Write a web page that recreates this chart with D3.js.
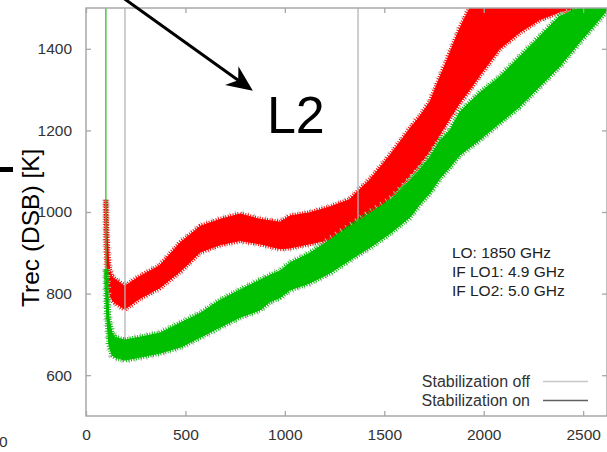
<!DOCTYPE html>
<html>
<head>
<meta charset="utf-8">
<script src="https://cdn.jsdelivr.net/npm/d3@7"></script>
<style>
  html, body { margin: 0; padding: 0; background: #fff; }
  svg { display: block; font-family: "Liberation Sans", Arial, Helvetica, sans-serif; }
</style>
</head>
<body>
<svg id="chart" width="607" height="452"></svg>
<script>
// ---------------- data ----------------
const xTicks = [0, 500, 1000, 1500, 2000, 2500];
const yTicks = [600, 800, 1000, 1200, 1400];

// red band (lower / upper envelope of the noisy trace)
const redX    = [100, 104, 110, 118, 130, 145, 195, 270, 370, 475, 575, 675, 775, 875, 975, 1025, 1125, 1225, 1325, 1370, 1430, 1530, 1630, 1680, 1730, 1780, 1830, 1880, 1930, 1980, 2080, 2180, 2280, 2380, 2460];
const redLow  = [930, 880, 830, 800, 785, 778, 762, 788, 814, 855, 902, 920, 930, 922, 910, 912, 922, 932, 955, 965, 985, 1035, 1090, 1118, 1150, 1190, 1230, 1268, 1300, 1335, 1400, 1440, 1471, 1490, 1500];
const redHigh = [1030, 960, 900, 860, 842, 835, 818, 842, 868, 925, 965, 982, 995, 982, 975, 990, 998, 1012, 1030, 1052, 1080, 1140, 1205, 1235, 1270, 1330, 1390, 1450, 1500, 1500, 1500, 1500, 1500, 1500, 1500];

// green band
const greenX    = [101, 103, 108, 115, 130, 145, 195, 270, 370, 475, 575, 675, 775, 875, 925, 975, 1025, 1125, 1225, 1325, 1430, 1530, 1630, 1680, 1730, 1780, 1830, 1880, 1980, 2080, 2180, 2280, 2380, 2480, 2580, 2620];
const greenLow  = [800, 760, 720, 675, 650, 644, 637, 644, 654, 669, 693, 718, 742, 760, 780, 790, 809, 826, 850, 882, 914, 948, 988, 1020, 1047, 1083, 1110, 1140, 1177, 1218, 1258, 1307, 1356, 1415, 1471, 1495];
const greenHigh = [860, 840, 800, 740, 705, 693, 686, 693, 703, 728, 752, 784, 809, 833, 845, 855, 875, 899, 931, 963, 998, 1029, 1078, 1105, 1135, 1175, 1200, 1245, 1292, 1331, 1380, 1429, 1479, 1500, 1500, 1500];

// isolated spikes
const spikeX      = [196, 1368, 100];
const spikeLow    = [680, 960, 860];
const spikeHigh   = [1500, 1500, 1500];
const spikeSeries = ["off", "off", "on"];

const infoLines   = ["LO: 1850 GHz", "IF LO1: 4.9 GHz", "IF LO2: 5.0 GHz"];
const legendNames = ["Stabilization off", "Stabilization on"];

// ---------------- chart ----------------
const L = 86, R = 607, T = 8, B = 416;
const svg = d3.select("#chart");
const x = d3.scaleLinear().domain([0, 2620]).range([L, R]);
const y = d3.scaleLinear().domain([500, 1500]).range([B, T]);

svg.append("defs").append("clipPath").attr("id", "clip")
  .append("rect").attr("x", L).attr("y", T).attr("width", R - L).attr("height", B - T);

const plot = svg.append("g").attr("clip-path", "url(#clip)");

function band(xs, lo, hi) {
  return xs.map((d, i) => ({ x: d, lo: lo[i], hi: hi[i] }));
}
const area = d3.area().x(d => x(d.x)).y0(d => y(d.lo)).y1(d => y(d.hi));

const RED = "#ff0000", GREEN = "#00be00", GRAY = "#b4b4b4";

function drawBand(data, col) {
  const g = plot.append("g");
  // faint gray fringe (stabilization-off trace peeking out)
  g.append("path").datum(data).attr("d", area)
    .attr("fill", "none").attr("stroke", "#c4c4c4").attr("stroke-width", 8)
    .attr("stroke-dasharray", "1,5");
  // fuzzy coloured fringe
  g.append("path").datum(data).attr("d", area)
    .attr("fill", "none").attr("stroke", col).attr("stroke-width", 5)
    .attr("stroke-dasharray", "1,1.5");
  g.append("path").datum(data).attr("d", area)
    .attr("fill", col).attr("stroke", col).attr("stroke-width", 1);
}

drawBand(band(redX, redLow, redHigh), RED);

const spikes = spikeX.map((d, i) => ({ x: d, lo: spikeLow[i], hi: spikeHigh[i], s: spikeSeries[i] }));
plot.selectAll("line.spike-off").data(spikes.filter(d => d.s === "off")).join("line")
  .attr("class", "spike-off")
  .attr("x1", d => x(d.x)).attr("x2", d => x(d.x))
  .attr("y1", d => y(d.lo)).attr("y2", d => y(d.hi))
  .attr("stroke", GRAY).attr("stroke-width", 1.3);

drawBand(band(greenX, greenLow, greenHigh), GREEN);

plot.selectAll("line.spike-on").data(spikes.filter(d => d.s === "on")).join("line")
  .attr("class", "spike-on")
  .attr("x1", d => x(d.x)).attr("x2", d => x(d.x))
  .attr("y1", d => y(d.lo)).attr("y2", d => y(d.hi))
  .attr("stroke", "#40c040").attr("stroke-width", 1.4);

// border and inward ticks (gnuplot style)
const axisCol = "#a8a8a8";
svg.append("rect").attr("x", L).attr("y", T).attr("width", R - L).attr("height", B - T)
  .attr("fill", "none").attr("stroke", axisCol).attr("stroke-width", 1.5);

const xb = svg.append("g").attr("transform", `translate(0,${B})`)
  .call(d3.axisBottom(x).tickValues(xTicks).tickSize(-5).tickPadding(13).tickFormat(d3.format("d")));
const xt = svg.append("g").attr("transform", `translate(0,${T})`)
  .call(d3.axisTop(x).tickValues(xTicks).tickSize(-5).tickFormat(""));
const yl = svg.append("g").attr("transform", `translate(${L},0)`)
  .call(d3.axisLeft(y).tickValues(yTicks).tickSize(-5).tickPadding(14).tickFormat(d3.format("d")));
const yr = svg.append("g").attr("transform", `translate(${R},0)`)
  .call(d3.axisRight(y).tickValues(yTicks).tickSize(-5).tickFormat(""));
[xb, xt, yl, yr].forEach(g => {
  g.select(".domain").remove();
  g.selectAll(".tick line").attr("stroke", axisCol).attr("stroke-width", 1.3);
  g.selectAll(".tick text").attr("fill", "#333").style("font-size", "15.5px")
    .style("font-family", '"Liberation Sans", Arial, sans-serif');
});

// stray "0" at lower left
svg.append("text").attr("x", -1).attr("y", 447).attr("fill", "#333")
  .style("font-size", "15.5px").text("0");

// y axis title
svg.append("text").attr("transform", "translate(39,307) rotate(-90)")
  .attr("fill", "#000").style("font-size", "24.5px").text("Trec (DSB) [K]");
svg.append("rect").attr("x", 0).attr("y", 167).attr("width", 13).attr("height", 5).attr("fill", "#000");

// info text
const info = svg.append("g");
infoLines.forEach((t, i) => {
  info.append("text").attr("x", x(1840)).attr("y", 258 + i * 18.8)
    .attr("fill", "#222").style("font-size", "15.5px").text(t);
});

// legend
const legCols = ["#c8c8c8", "#606060"];
legendNames.forEach((t, i) => {
  const yy = 386.5 + i * 19;
  svg.append("text").attr("x", 530).attr("y", yy).attr("text-anchor", "end")
    .attr("fill", "#333").style("font-size", "16px").text(t);
  svg.append("line").attr("x1", 543).attr("x2", 588).attr("y1", yy - 5).attr("y2", yy - 5)
    .attr("stroke", legCols[i]).attr("stroke-width", 1.3);
});

// arrow annotation pointing at "L2"
const start = [x(186), y(1525)], tip = [x(839), y(1297)];
const dx = tip[0] - start[0], dy = tip[1] - start[1], len = Math.hypot(dx, dy);
const ux = dx / len, uy = dy / len, nx = -uy, ny = ux;
const hl = 26, hw = 11.5, back = 18;
svg.append("line").attr("x1", start[0]).attr("y1", start[1])
  .attr("x2", tip[0] - ux * back).attr("y2", tip[1] - uy * back)
  .attr("stroke", "#000").attr("stroke-width", 3);
const bx = tip[0] - ux * hl, by = tip[1] - uy * hl;
svg.append("path")
  .attr("d", `M${tip[0]},${tip[1]} L${bx + nx * hw},${by + ny * hw} L${tip[0] - ux * back},${tip[1] - uy * back} L${bx - nx * hw},${by - ny * hw} Z`)
  .attr("fill", "#000");
svg.append("text").attr("x", x(910)).attr("y", y(1194)).attr("fill", "#000")
  .style("font-size", "52px").text("L2");
</script>
</body>
</html>
